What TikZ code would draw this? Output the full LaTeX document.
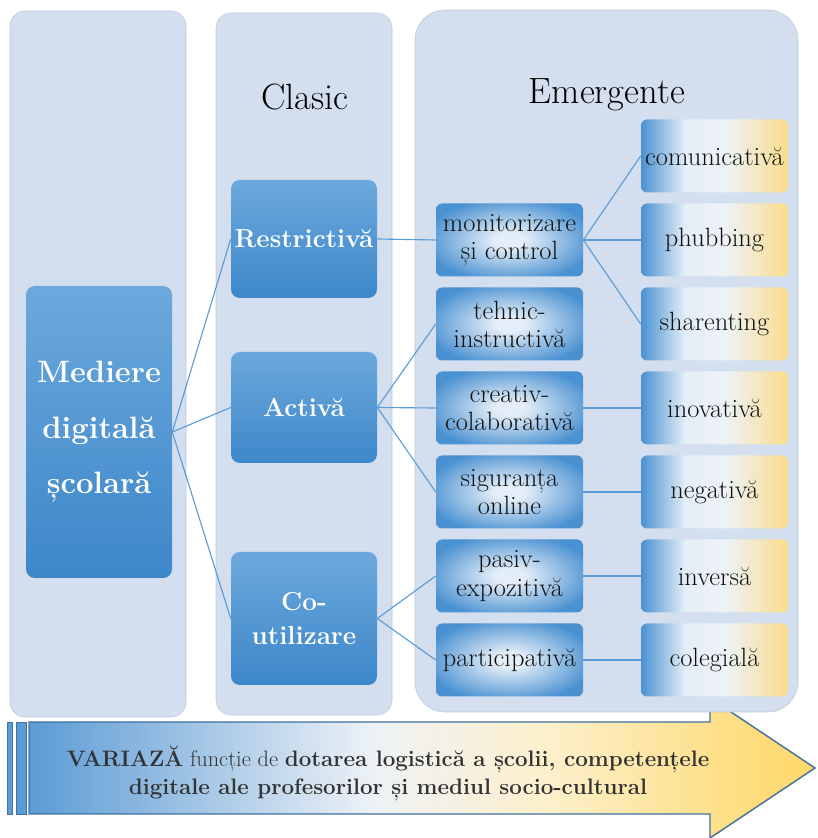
\documentclass[tikz,border=0pt]{standalone}

\begin{document}
\begin{tikzpicture}[
  colonne/.style={fill=fond_col,draw=bord_col,line width=0.4pt},
  bleu/.style={top color=bleu_haut,bottom color=bleu_bas,rounded corners=0.22cm,text=white,
    font=\bfseries\fontsize{18.5}{24}\selectfont,align=center,inner sep=0pt,minimum width=3.65cm},
  milieu/.style={shading=bleu_centre,rounded corners=0.15cm,align=center,inner sep=0pt,
    minimum width=3.675cm,minimum height=1.825cm,text=texte,font=\fontsize{18.8}{20}\selectfont},
  droite/.style={milieu,shading=bleu_or},
  lien/.style={draw=trait,line width=0.8pt}]
\definecolor{fond_col}{HTML}{D3DFEE}
\definecolor{bord_col}{HTML}{BCC9DA}
\definecolor{bleu_haut}{HTML}{6CA8DC}
\definecolor{bleu_bas}{HTML}{3D87C9}
\definecolor{bleu_bord}{HTML}{4A91D1}
\definecolor{centre_clair}{HTML}{E4EEF8}
\definecolor{blanc_gris}{HTML}{EEF2F6}
\definecolor{or_clair}{HTML}{FADD8C}
\definecolor{or_fort}{HTML}{FED766}
\definecolor{bord_fleche}{HTML}{41719C}
\definecolor{trait}{HTML}{5B9BD5}
\definecolor{texte}{HTML}{111111}
\definecolor{texte_fleche}{HTML}{333333}
\pgfdeclareradialshading{bleu_centre}{\pgfpoint{0bp}{0bp}}{color(0bp)=(centre_clair); color(5bp)=(centre_clair); color(29bp)=(bleu_bord); color(50bp)=(bleu_bord)}
\pgfdeclarehorizontalshading{bleu_or}{100bp}{color(0bp)=(bleu_bord); color(25bp)=(bleu_bord); color(40bp)=(centre_clair); color(54bp)=(blanc_gris); color(75bp)=(or_clair); color(100bp)=(or_clair)}
\pgfdeclarehorizontalshading{fleche_grad}{100bp}{color(0bp)=(trait); color(25bp)=(trait); color(47bp)=(blanc_gris); color(58bp)=(or_clair!45); color(75bp)=(or_fort); color(100bp)=(or_fort)}

\useasboundingbox (0,0) rectangle (20.425,20.95);

%la grande fleche du bas
\shadedraw[shading=fleche_grad,draw=bord_fleche,line width=1pt] (0.725,0.6) -- (17.75,0.6) -- (17.75,0) -- (20.375,1.75) -- (17.75,3.5) -- (17.75,2.9) -- (0.725,2.9) -- cycle;
\filldraw[fill=trait,draw=bord_fleche,line width=0.6pt] (0.175,0.6) rectangle (0.3,2.9);%bande fine
\filldraw[fill=trait,draw=bord_fleche,line width=0.6pt] (0.4,0.6) rectangle (0.65,2.9);%bande large
\node[text=texte_fleche,align=center,font=\fontsize{15.9}{19.5}\selectfont] (variaza) at (9.7,1.62)
  {\textbf{VARIAZĂ} funcție de \textbf{dotarea logistică a școlii, competențele}\\
   \textbf{digitale ale profesorilor și mediul socio-cultural}};

%les trois colonnes
\filldraw[colonne,rounded corners=0.375cm] (0.25,3.025) rectangle (4.65,20.675);
\filldraw[colonne,rounded corners=0.375cm] (5.4,3.075) rectangle (9.8,20.625);
\filldraw[colonne,rounded corners=0.75cm] (10.375,3.15) rectangle (19.95,20.7);

\node[font=\fontsize{26}{30}\selectfont] (clasic) at (7.625,18.525) {Clasic};
\node[font=\fontsize{26}{30}\selectfont] (emergente) at (15.175,18.575) {Emergente};

%les boites bleues
\node[bleu,minimum height=7.3cm,font=\bfseries\fontsize{22}{39.5}\selectfont] (mediere) at (2.475,10.15) {Mediere\\digitală\\școlară};
\node[bleu,minimum height=2.95cm] (restrictiva) at (7.6,14.975) {Restrictivă};
\node[bleu,minimum height=2.775cm] (activa) at (7.6,10.7625) {Activă};
\node[bleu,minimum height=3.325cm] (co_utilizare) at (7.6,5.4875) {Co-\\utilizare};

%colonne du milieu
\node[milieu] (monitorizare) at (12.7375,14.95) {monitorizare\\și control};
\node[milieu] (tehnic) at (12.7375,12.85) {tehnic-\\instructivă};
\node[milieu] (creativ) at (12.7375,10.75) {creativ-\\colaborativă};
\node[milieu] (siguranta) at (12.7375,8.65) {siguranța\\online};
\node[milieu] (pasiv) at (12.7375,6.55) {pasiv-\\expozitivă};
\node[milieu] (participativa) at (12.7375,4.45) {participativă};

%colonne de droite
\node[droite] (comunicativa) at (17.8625,17.05) {comunicativă};
\node[droite] (phubbing) at (17.8625,14.95) {phubbing};
\node[droite] (sharenting) at (17.8625,12.85) {sharenting};
\node[droite] (inovativa) at (17.8625,10.75) {inovativă};
\node[droite] (negativa) at (17.8625,8.65) {negativă};
\node[droite] (inversa) at (17.8625,6.55) {inversă};
\node[droite] (colegiala) at (17.8625,4.45) {colegială};

%les liens
\draw[lien] (mediere.east) -- (restrictiva.west);
\draw[lien] (mediere.east) -- (activa.west);
\draw[lien] (mediere.east) -- (co_utilizare.west);
\draw[lien] (restrictiva.east) -- (monitorizare.west);
\draw[lien] (activa.east) -- (tehnic.west);
\draw[lien] (activa.east) -- (creativ.west);
\draw[lien] (activa.east) -- (siguranta.west);
\draw[lien] (co_utilizare.east) -- (pasiv.west);
\draw[lien] (co_utilizare.east) -- (participativa.west);
\draw[lien] (monitorizare.east) -- (comunicativa.west);
\draw[lien] (monitorizare.east) -- (phubbing.west);
\draw[lien] (monitorizare.east) -- (sharenting.west);
\draw[lien] (creativ.east) -- (inovativa.west);
\draw[lien] (siguranta.east) -- (negativa.west);
\draw[lien] (pasiv.east) -- (inversa.west);
\draw[lien] (participativa.east) -- (colegiala.west);

\end{tikzpicture}
\end{document}
